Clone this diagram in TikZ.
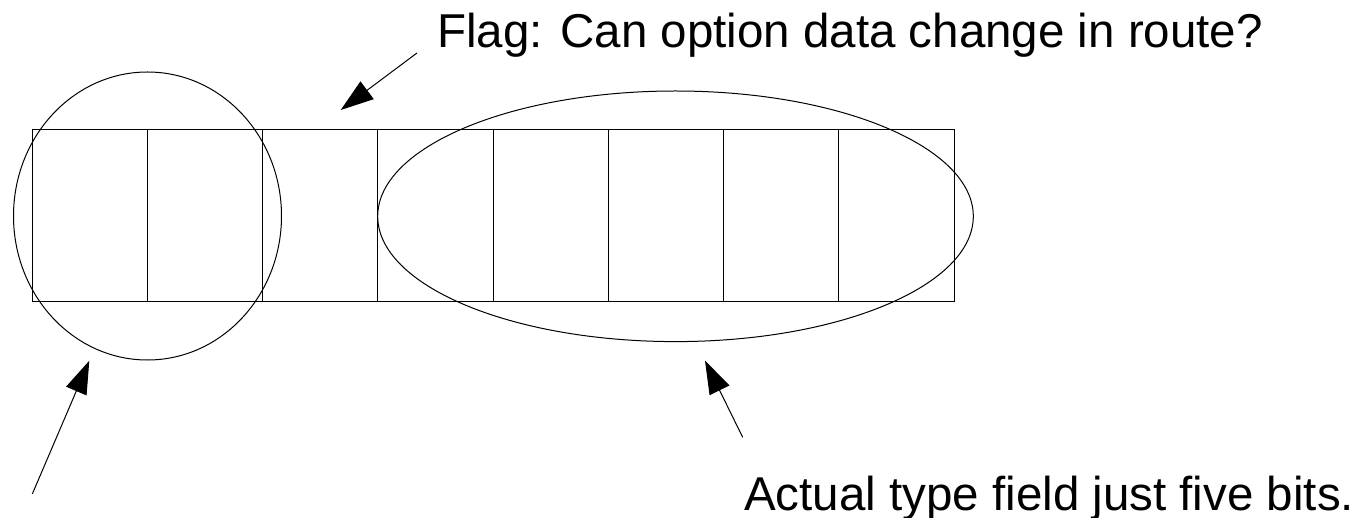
\documentclass[tikz,border=0pt]{standalone}
\usepackage{fontspec}
\setmainfont{Liberation Sans}
\usetikzlibrary{arrows.meta,shapes.geometric}
\begin{document}
\begin{tikzpicture}[x=1pt,y=-1pt,
  cell/.style={draw=black,line width=1pt,minimum width=115.25pt,minimum height=172pt,inner sep=0pt,outer sep=0pt},
  ring/.style={draw=black,line width=1pt,ellipse,inner sep=0pt},
  label/.style={inner sep=0pt,font=\fontsize{47.5}{57}\selectfont},
  pointer/.style={draw=black,line width=1pt,-{Triangle[length=33pt,width=22pt]}}]
\useasboundingbox (0,0) rectangle (1370,518);
\foreach \i in {0,...,7}{
  \node[cell] (c\i) at ({32+57.625+115.25*\i},216) {};
}
\node[ring,minimum width=268pt,minimum height=288pt] (grp) at (147.5,216) {};
\node[ring,minimum width=595.6pt,minimum height=250.6pt] (typ) at (675.5,216.3) {};
\node[label,anchor=base west] (flag) at (437,48) {Flag: Can option data change in route?};
\node[label,anchor=base west] (act) at (744,510) {Actual type field just five bits.};
\coordinate (t1) at (417,53);
\coordinate (h1) at (340.7,110);
\coordinate (t2) at (32.3,494);
\coordinate (h2) at (89.3,360.7);
\coordinate (t3) at (742.7,437.3);
\coordinate (h3) at (705,360.7);
\draw[pointer] (t1) -- (h1);
\draw[pointer] (t2) -- (h2);
\draw[pointer] (t3) -- (h3);
\end{tikzpicture}
\end{document}
